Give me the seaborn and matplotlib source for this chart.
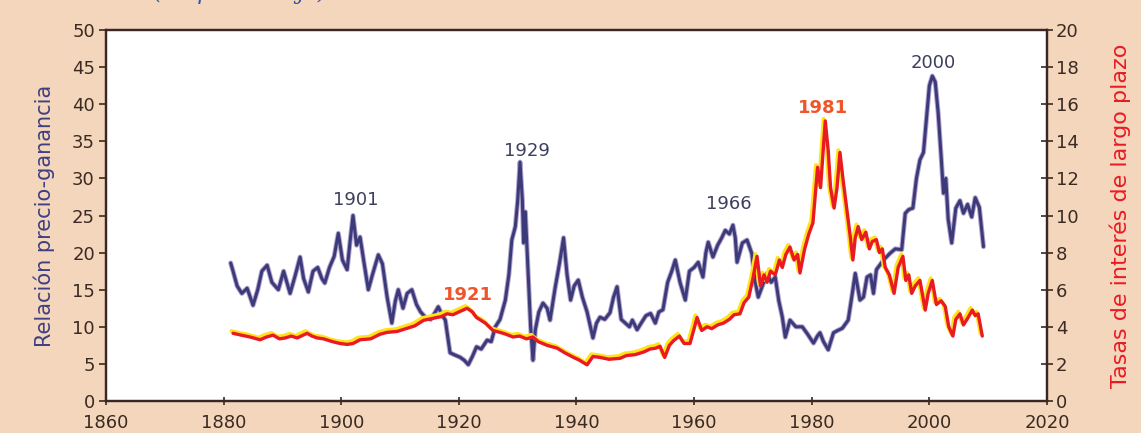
import numpy as np
import pandas as pd
import matplotlib
matplotlib.use("Agg")
import matplotlib.pyplot as plt
import matplotlib.transforms as mtransforms
import seaborn as sns

# ---------------- data ----------------
pe_year = [1881.2, 1881.6, 1882.3, 1883.1, 1884.0, 1885.0, 1885.8, 1886.5, 1887.4, 1888.2,
           1889.3, 1890.2, 1891.3, 1892.2, 1893.0, 1893.6, 1894.4, 1895.2, 1896.0, 1896.7,
           1897.2, 1898.0, 1898.8, 1899.5, 1900.2, 1901.0, 1901.5, 1902.0, 1902.6, 1903.2,
           1903.9, 1904.6, 1905.3, 1906.3, 1907.0, 1907.8, 1908.6, 1909.2, 1909.7, 1910.5,
           1911.2, 1912.0, 1912.8, 1913.5, 1914.3, 1915.2, 1916.0, 1916.5, 1917.2, 1917.7,
           1918.5, 1919.3, 1920.2, 1920.9, 1921.6, 1922.3, 1923.0, 1923.8, 1924.8, 1925.5,
           1926.2, 1927.0, 1927.9, 1928.5, 1929.0, 1929.6, 1930.0, 1930.4, 1930.8, 1931.0,
           1931.3, 1931.8, 1932.2, 1932.6, 1933.0, 1933.6, 1934.3, 1935.0, 1935.5, 1936.4,
           1937.1, 1937.8, 1938.4, 1939.0, 1939.6, 1940.3, 1941.0, 1941.8, 1942.8, 1943.4,
           1944.0, 1944.8, 1945.7, 1946.3, 1946.9, 1947.6, 1948.3, 1949.0, 1949.5, 1950.3,
           1951.0, 1951.8, 1952.6, 1953.4, 1954.0, 1954.7, 1955.5, 1956.2, 1956.8, 1957.6,
           1958.5, 1959.2, 1960.0, 1960.7, 1961.5, 1962.0, 1962.4, 1963.2, 1964.0, 1964.7,
           1965.3, 1966.0, 1966.6, 1967.0, 1967.3, 1968.2, 1969.0, 1969.8, 1970.4, 1970.9,
           1971.6, 1972.4, 1973.1, 1973.8, 1974.4, 1975.0, 1975.5, 1976.3, 1977.3, 1978.4,
           1979.3, 1980.3, 1981.0, 1981.4, 1982.0, 1982.8, 1983.7, 1984.4, 1985.2, 1986.2,
           1986.8, 1987.4, 1988.2, 1988.8, 1989.4, 1990.0, 1990.5, 1991.0, 1992.2, 1993.3,
           1994.2, 1995.3, 1995.9, 1996.5, 1997.2, 1997.8, 1998.4, 1999.0, 1999.6, 2000.0,
           2000.5, 2001.0, 2001.5, 2002.0, 2002.4, 2002.8, 2003.2, 2003.8, 2004.5, 2005.2,
           2005.8, 2006.5, 2007.2, 2007.8, 2008.5, 2009.2]
pe_value = [18.6, 17.5, 15.5, 14.5, 15.2, 12.9, 15.0, 17.5, 18.3, 16.0,
            15.0, 17.5, 14.5, 17.0, 19.4, 16.5, 14.7, 17.5, 18.0, 16.5,
            15.9, 18.0, 19.5, 22.6, 19.0, 17.7, 21.5, 25.0, 21.0, 22.1,
            18.5, 15.0, 17.0, 19.7, 18.5, 14.0, 10.5, 13.5, 15.0, 12.5,
            14.5, 15.0, 13.0, 12.0, 11.3, 11.0, 12.0, 12.7, 11.5, 10.9,
            6.5, 6.2, 5.9, 5.5, 4.9, 6.0, 7.3, 7.0, 8.2, 8.0,
            10.0, 11.0, 13.6, 17.0, 21.7, 23.5, 27.0, 32.2, 27.0, 21.3,
            25.5, 17.0, 10.0, 5.5, 9.6, 12.0, 13.2, 12.5, 10.9, 15.4,
            18.5, 22.0, 17.0, 13.6, 15.5, 16.3, 14.0, 12.0, 8.5, 10.5,
            11.3, 11.0, 11.9, 14.0, 15.4, 11.0, 10.5, 10.0, 10.9, 9.6,
            10.5, 11.5, 11.8, 10.5, 12.0, 12.3, 16.0, 17.5, 19.0, 16.0,
            13.6, 17.5, 18.0, 18.7, 16.7, 20.0, 21.4, 19.4, 21.0, 22.0,
            23.0, 22.5, 23.7, 22.0, 18.7, 21.3, 21.7, 19.9, 16.0, 14.0,
            15.5, 17.2, 16.0, 16.7, 13.5, 11.3, 8.6, 10.9, 10.0, 10.0,
            9.0, 7.8, 8.8, 9.2, 8.0, 6.9, 9.2, 9.5, 9.8, 10.9,
            14.0, 17.2, 13.6, 14.0, 16.7, 17.0, 14.5, 17.7, 19.0, 19.9,
            20.5, 20.4, 25.3, 25.8, 26.0, 30.0, 32.5, 33.5, 39.0, 42.5,
            43.8, 43.0, 38.8, 33.0, 28.0, 30.0, 24.5, 21.3, 26.0, 27.0,
            25.3, 26.5, 24.8, 27.4, 26.1, 20.8]

rate_year = [1881.6, 1883.0, 1884.5, 1886.2, 1887.3, 1888.4, 1889.5, 1890.5, 1891.5, 1892.5,
             1893.5, 1894.2, 1895.0, 1895.9, 1897.0, 1898.5, 1899.8, 1901.0, 1902.0, 1903.2,
             1905.0, 1906.6, 1907.8, 1909.5, 1911.0, 1912.5, 1914.0, 1915.5, 1917.0, 1918.0,
             1919.0, 1920.0, 1921.4, 1922.3, 1923.0, 1924.5, 1925.8, 1927.0, 1928.0, 1929.2,
             1930.3, 1931.5, 1932.6, 1933.5, 1935.0, 1936.7, 1938.0, 1939.5, 1940.5, 1941.8,
             1942.8, 1944.0, 1945.5, 1947.4, 1948.5, 1950.0, 1951.5, 1952.5, 1953.5, 1954.2,
             1955.0, 1955.8, 1956.5, 1957.5, 1958.3, 1959.3, 1960.0, 1960.5, 1961.3, 1962.2,
             1963.0, 1964.0, 1965.0, 1966.0, 1966.8, 1967.8, 1968.5, 1969.3, 1970.0, 1970.7,
             1971.3, 1971.9, 1972.4, 1973.0, 1973.8, 1974.5, 1975.0, 1975.6, 1976.3, 1977.0,
             1977.6, 1978.0, 1978.8, 1979.5, 1980.2, 1980.7, 1981.0, 1981.5, 1982.3, 1982.8,
             1983.2, 1983.8, 1984.3, 1984.8, 1985.3, 1985.9, 1986.5, 1987.0, 1987.4, 1987.9,
             1988.5, 1989.2, 1989.8, 1990.3, 1991.0, 1991.5, 1992.0, 1992.5, 1993.2, 1994.0,
             1994.7, 1995.5, 1996.0, 1996.5, 1997.0, 1997.6, 1998.4, 1999.3, 1999.8, 2000.5,
             2001.2, 2002.0, 2002.7, 2003.3, 2004.0, 2004.5, 2005.2, 2005.8, 2006.4, 2007.3,
             2007.8, 2008.3, 2009.0]
rate_value = [3.65, 3.55, 3.45, 3.3, 3.45, 3.55, 3.35, 3.4, 3.5, 3.4,
              3.55, 3.65, 3.5, 3.4, 3.35, 3.2, 3.1, 3.05, 3.1, 3.3,
              3.35, 3.6, 3.7, 3.75, 3.9, 4.05, 4.35, 4.45, 4.55, 4.7,
              4.65, 4.8, 5.0, 4.8, 4.5, 4.2, 3.8, 3.7, 3.6, 3.45,
              3.5, 3.35, 3.45, 3.2, 3.0, 2.85, 2.6, 2.35, 2.2, 1.95,
              2.4, 2.35, 2.25, 2.3, 2.45, 2.5, 2.65, 2.8, 2.85, 2.95,
              2.35, 3.0, 3.25, 3.5, 3.1, 3.1, 3.9, 4.5, 3.8, 4.0,
              3.9, 4.1, 4.2, 4.4, 4.65, 4.7, 5.3, 5.6, 6.6, 7.8,
              6.2, 6.8, 6.4, 7.0, 6.8, 7.6, 7.2, 7.9, 8.3, 7.6,
              7.9, 6.9, 8.2, 9.0, 9.6, 11.5, 12.6, 11.5, 15.1, 13.5,
              11.5, 10.4, 11.5, 13.4, 12.0, 10.5, 9.0, 7.6, 8.8, 9.4,
              8.7, 9.1, 8.2, 8.6, 8.7, 8.0, 8.2, 7.2, 6.8, 5.8,
              7.2, 7.8, 6.5, 6.8, 5.8, 6.2, 6.5, 4.9, 5.8, 6.5,
              5.2, 5.4, 5.1, 4.0, 3.5, 4.4, 4.7, 4.1, 4.4, 4.9,
              4.6, 4.7, 3.5]

x_ticks = [1860, 1880, 1900, 1920, 1940, 1960, 1980, 2000, 2020]
left_ticks = [0, 5, 10, 15, 20, 25, 30, 35, 40, 45, 50]
right_ticks = [0, 2, 4, 6, 8, 10, 12, 14, 16, 18, 20]

pe_labels = ["1901", "1929", "1966", "2000"]
pe_label_x = [1902.4, 1931.6, 1965.9, 2000.6]
pe_label_y = [27.1, 33.7, 26.5, 45.5]
rate_labels = ["1921", "1981"]
rate_label_x = [1921.6, 1981.9]
rate_label_y = [5.7, 15.8]

left_title = "Relación precio-ganancia"
right_title = "Tasas de interés de largo plazo"
top_note = "(en porcentaje)"

# ---------------- styling ----------------
sns.set_style("ticks")
plt.rcParams["font.family"] = ["DejaVu Sans"]

BG = "#f3d6bb"
NAVY = "#3b3b7a"
RED = "#ea1a22"
YELLOW = "#ffe21a"
TICK_C = "#3a2a22"

fig = plt.figure(figsize=(11.41, 4.33), dpi=100, facecolor=BG)
ax = fig.add_axes([0.0929, 0.0739, 0.8247, 0.8568])
ax.set_facecolor("white")

pe_df = pd.DataFrame({"year": pe_year, "pe": pe_value})
rate_df = pd.DataFrame({"year": rate_year, "rate": rate_value})

# purple halo + navy line for the P/E ratio
sns.lineplot(data=pe_df, x="year", y="pe", ax=ax, color="#7a5aa6", lw=3.6,
             alpha=0.55, estimator=None, sort=False, zorder=3)
sns.lineplot(data=pe_df, x="year", y="pe", ax=ax, color=NAVY, lw=2.2,
             estimator=None, sort=False, zorder=4)

ax.set_xlim(1860, 2020)
ax.set_ylim(0, 50)
ax.set_xticks(x_ticks)
ax.set_yticks(left_ticks)
ax.set_xlabel("")
ax.set_ylabel(left_title, color="#3e3f82", fontsize=15, labelpad=12)

ax2 = ax.twinx()
# yellow offset halo then red line for long-term rates
shift = mtransforms.offset_copy(ax2.transData, fig=fig, x=-1.2, y=1.6, units="points")
sns.lineplot(data=rate_df, x="year", y="rate", ax=ax2, color=YELLOW, lw=2.8,
             estimator=None, sort=False, zorder=2, transform=shift)
sns.lineplot(data=rate_df, x="year", y="rate", ax=ax2, color=RED, lw=2.4,
             estimator=None, sort=False, zorder=3)
ax2.set_ylim(0, 20)
ax2.set_yticks(right_ticks)
ax2.set_xlim(1860, 2020)
ax2.set_ylabel(right_title, color=RED, fontsize=16, labelpad=22)

# axes appearance
for a in (ax, ax2):
    for s in a.spines.values():
        s.set_visible(True)
        s.set_color("#3a2622")
        s.set_linewidth(1.6)
ax.tick_params(axis="y", direction="out", length=5, width=1.2, colors=TICK_C,
               labelsize=13, pad=3)
ax.tick_params(axis="x", direction="inout", length=6, width=1.2, colors=TICK_C,
               labelsize=13, pad=6)
ax2.tick_params(axis="y", direction="inout", length=9, width=1.2, colors=TICK_C,
                labelsize=13, pad=2)

# year annotations
for t, x, y in zip(pe_labels, pe_label_x, pe_label_y):
    ax.text(x, y, t, color="#3d3f5e", fontsize=13, ha="center", va="center", zorder=6)
for t, x, y in zip(rate_labels, rate_label_x, rate_label_y):
    ax2.text(x, y, t, color="#f0552a", fontsize=13, fontweight="bold",
             ha="center", va="center", zorder=6)

# partly cut-off note at the very top
fig.text(0.135, 1.016, top_note, color="#2e55a8", fontsize=16, style="italic",
         family=["DejaVu Serif"], ha="left", va="center")

fig.savefig("out.png", dpi=100, facecolor=BG)
